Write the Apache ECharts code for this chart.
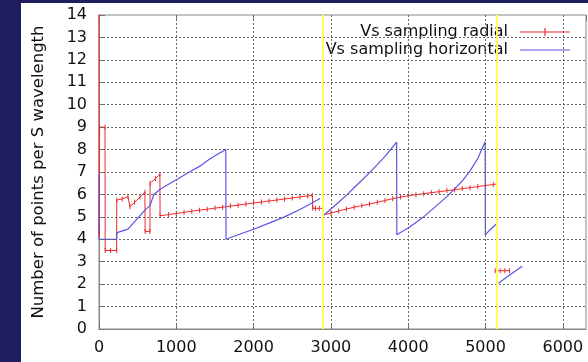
<!DOCTYPE html>
<html>
<head>
<meta charset="utf-8">
<script src="https://cdn.jsdelivr.net/npm/echarts@6/dist/echarts.min.js"></script>
<style>
html,body{margin:0;padding:0;background:#fff;}
#c{width:588px;height:362px;}
</style>
</head>
<body>
<div id="c"></div>
<script>
// Vs sampling radial (red, with "+" markers); '-' marks a gap
const radialX = [0, 3, 8, 78, 80, 150, 228, 230, 300, 375, 400, 460, 530, 594, 597, 659, 661, 730, 788, 790,
  900, 1000, 1100, 1200, 1300, 1400, 1500, 1600, 1700, 1800, 1900, 2000, 2100, 2200, 2300, 2400, 2500, 2600, 2700, 2760,
  2765, 2800, 2850, 2892, 2898,
  3000, 3100, 3200, 3300, 3400, 3500, 3600, 3700, 3800, 3900, 4000, 4100, 4200, 4300, 4400, 4500, 4600, 4700, 4800, 4900, 5000, 5100, 5150,
  5140, 5125, 5190, 5250, 5310];
const radialY = [14.6, 4.2, 9.0, 9.0, 3.5, 3.5, 3.5, 5.75, 5.8, 5.9, 5.45, 5.65, 5.88, 6.1, 4.35, 4.35, 6.5, 6.7, 6.9, 5.05,
  5.1, 5.15, 5.2, 5.25, 5.3, 5.34, 5.39, 5.43, 5.48, 5.52, 5.57, 5.62, 5.66, 5.71, 5.75, 5.8, 5.84, 5.89, 5.93, 5.96,
  5.38, 5.38, 5.38, 5.38, 5.08,
  5.17, 5.26, 5.35, 5.43, 5.5, 5.57, 5.65, 5.73, 5.81, 5.88, 5.94, 5.99, 6.03, 6.08, 6.12, 6.17, 6.21, 6.26, 6.3, 6.35, 6.4, 6.44, 6.47,
  '-', 2.6, 2.6, 2.6, 2.6];

// Vs sampling horizontal (blue line)
const horizX = [0, 0, 228, 234, 375, 490, 594, 659, 710, 800, 900, 1000, 1170, 1300, 1400, 1500, 1640, 1643,
  1800, 2000, 2200, 2400, 2600, 2860, 2880,
  2910, 3000, 3100, 3200, 3300, 3400, 3500, 3600, 3700, 3850, 3853,
  3900, 4000, 4100, 4200, 4300, 4400, 4500, 4600, 4700, 4800, 4900, 4995, 4998, 5050, 5100, 5150, 5160,
  5170, 5250, 5350, 5475];
const horizY = [6.9, 4.0, 4.0, 4.3, 4.45, 4.9, 5.3, 5.5, 6.0, 6.25, 6.45, 6.65, 7.0, 7.25, 7.5, 7.72, 8.0, 4.0,
  4.2, 4.45, 4.72, 5.0, 5.33, 5.82, '-',
  5.08, 5.35, 5.65, 5.96, 6.3, 6.63, 6.97, 7.33, 7.7, 8.33, 4.2,
  4.3, 4.5, 4.75, 5.0, 5.3, 5.6, 5.9, 6.25, 6.6, 7.05, 7.6, 8.35, 4.2, 4.4, 4.55, 4.72, '-',
  2.04, 2.25, 2.5, 2.8];

// vertical yellow marker lines
const markerX = [2900, 5145];

const xTicks = [0, 1000, 2000, 3000, 4000, 5000, 6000];
const yTicks = [0, 1, 2, 3, 4, 5, 6, 7, 8, 9, 10, 11, 12, 13, 14];
const seriesNames = ['Vs sampling radial', 'Vs sampling horizontal'];

const pair = (xs, ys) => xs.map((x, i) => [x, ys[i]]);

const FONT = 'DejaVu Sans';
const NAVY = '#201d5e';
const RED = '#ee2a2a';
const BLUE = '#5a55e6';
const GRIDC = '#666666';

const chart = echarts.init(document.getElementById('c'), null, { renderer: 'canvas' });
chart.setOption({
  backgroundColor: '#ffffff',
  animation: false,
  textStyle: { fontFamily: FONT },
  graphic: [
    { type: 'rect', left: 0, top: 0, shape: { width: 21, height: 362 }, style: { fill: NAVY }, silent: true },
    { type: 'rect', left: 0, top: 0, shape: { width: 588, height: 3 }, style: { fill: NAVY }, silent: true }
  ],
  grid: {
    left: 99, top: 15, bottom: 33, right: 2,
    show: true, borderColor: '#888', borderWidth: 1, backgroundColor: 'transparent'
  },
  legend: {
    orient: 'vertical',
    right: 8, top: 17,
    align: 'right',
    itemWidth: 50, itemHeight: 8, itemGap: 0,
    padding: [6, 10, 2, 60],
    backgroundColor: '#fff',
    textStyle: { fontFamily: FONT, fontSize: 16, color: '#111', lineHeight: 18, padding: [0, 7, 0, 0] },
    data: [
      { name: seriesNames[0], icon: 'path://M0,3.5h50v1h-50z M24.4,0h1.2v8h-1.2z', itemStyle: { color: RED } },
      { name: seriesNames[1], icon: 'path://M0,3.4h50v1.2h-50z M0,0v8', itemStyle: { color: BLUE } }
    ]
  },
  xAxis: [{
    type: 'value', min: 0, max: 6300, interval: 1000,
    axisLine: { show: true, lineStyle: { color: '#888', width: 1 } },
    axisTick: { show: true, inside: true, length: 6, lineStyle: { color: '#777' } },
    axisLabel: {
      margin: 11, fontFamily: FONT, fontSize: 16, color: '#111',
      showMaxLabel: false,
      formatter: v => (xTicks.indexOf(v) >= 0 ? String(v) : '')
    },
    splitLine: { show: false }
  }, {
    type: 'value', min: 0, max: 6300, interval: 1000, position: 'top',
    axisLine: { show: false },
    axisTick: { show: true, inside: true, length: 6, lineStyle: { color: '#777' } },
    axisLabel: { show: false },
    splitLine: { show: false }
  }],
  yAxis: {
    type: 'value', min: 0, max: 14, interval: 1,
    name: 'Number of points per S wavelength',
    nameLocation: 'middle', nameGap: 52, nameRotate: 90,
    nameTextStyle: { fontFamily: FONT, fontSize: 16.5, color: '#111' },
    axisLine: { show: true, lineStyle: { color: '#888', width: 1 } },
    axisTick: { show: true, inside: true, length: 6, lineStyle: { color: '#777' } },
    axisLabel: {
      margin: 12, fontFamily: FONT, fontSize: 16, color: '#111',
      formatter: v => (yTicks.indexOf(v) >= 0 ? String(v) : '')
    },
    splitLine: { show: false }
  },
  series: [
    {
      name: 'gridlines', type: 'line', data: [], z: 1, silent: true,
      markLine: {
        silent: true, symbol: 'none', animation: false,
        label: { show: false },
        lineStyle: { color: GRIDC, width: 1, type: [2, 2] },
        data: xTicks.filter(v => v > 0).map(v => ({ xAxis: v }))
          .concat(yTicks.filter(v => v > 0 && v < 14).map(v => ({ yAxis: v })))
      }
    },
    {
      name: seriesNames[0], type: 'line',
      data: pair(radialX, radialY),
      symbol: 'rect', symbolSize: [1, 5], showSymbol: true,
      itemStyle: { color: RED },
      lineStyle: { color: RED, width: 1 },
      connectNulls: false, clip: true, z: 3
    },
    {
      name: seriesNames[1], type: 'line',
      data: pair(horizX, horizY),
      symbol: 'none',
      itemStyle: { color: BLUE },
      lineStyle: { color: BLUE, width: 1.2 },
      connectNulls: false, clip: true, z: 3
    },
    {
      name: 'markers', type: 'line', data: [], z: 10,
      markLine: {
        silent: true, symbol: 'none', animation: false,
        label: { show: false },
        lineStyle: { color: '#ffff5a', width: 2, type: 'solid' },
        data: markerX.map(x => ({ xAxis: x }))
      }
    }
  ]
});
</script>
</body>
</html>
